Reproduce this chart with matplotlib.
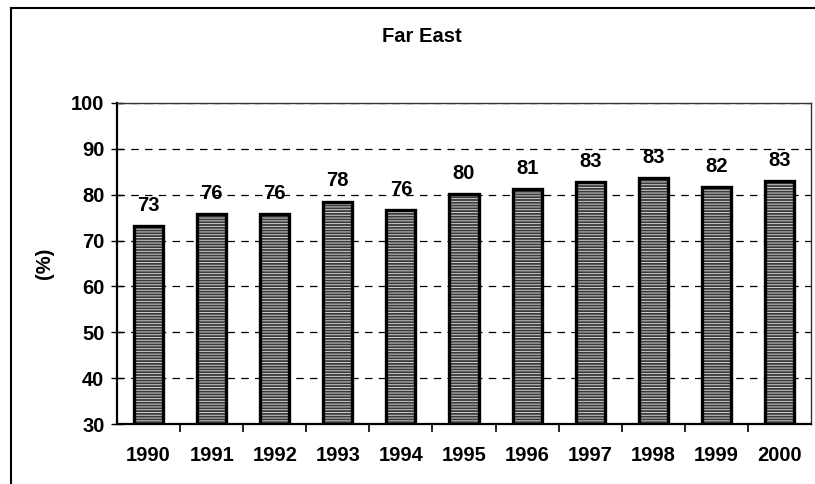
import matplotlib

matplotlib.use("Agg")
import matplotlib.pyplot as plt
from matplotlib.lines import Line2D

# 読み取った値 (棒の高さ) と表示ラベル
years = ["1990", "1991", "1992", "1993", "1994", "1995",
         "1996", "1997", "1998", "1999", "2000"]
share = [73.2, 75.8, 75.8, 78.5, 76.6, 80.2, 81.2, 82.8, 83.6, 81.7, 83.0]
labels = ["73", "76", "76", "78", "76", "80", "81", "83", "83", "82", "83"]
yticks = [30, 40, 50, 60, 70, 80, 90, 100]

plt.rcParams["font.family"] = ["Liberation Sans", "DejaVu Sans"]
plt.rcParams["font.weight"] = "bold"
plt.rcParams["hatch.linewidth"] = 0.7

FS = 14.5
W, H = 815, 484
fig = plt.figure(figsize=(W / 100, H / 100), dpi=100)
ax = fig.add_axes([117 / W, 1 - 424 / H, (811 - 117) / W, (424 - 103) / H])

x = list(range(len(years)))
# 塗り + 白い横線のハッチ、その上に黒枠
ax.bar(x, share, width=0.46, bottom=0, color="#3a3a3a", hatch="------",
       edgecolor="#cfcfcf", linewidth=0, zorder=2)
ax.bar(x, share, width=0.46, bottom=0, fill=False, edgecolor="black",
       linewidth=2.4, zorder=3)

for xi, v, lab in zip(x, share, labels):
    ax.annotate(lab, (xi, v), xytext=(0, 8), textcoords="offset points",
                ha="center", va="bottom", fontsize=FS, fontweight="bold")

ax.set_xlim(-0.5, len(years) - 0.5)
ax.set_ylim(30, 100)
ax.set_yticks(yticks)
ax.set_yticklabels([str(t) for t in yticks], fontsize=FS, fontweight="bold")
ax.set_xticks(x)
ax.set_xticklabels(years, fontsize=FS, fontweight="bold")
ax.tick_params(axis="x", length=0, pad=16)
ax.set_xticks([i + 0.5 for i in x[:-1]], minor=True)
ax.tick_params(axis="x", which="minor", length=6, direction="out", width=1.2)
ax.tick_params(axis="y", length=8, direction="inout", width=1.0, pad=5)

ax.yaxis.grid(True, linestyle=(0, (6, 5)), color="black", linewidth=0.9)
ax.set_axisbelow(True)
for s in ["left", "bottom"]:
    ax.spines[s].set_linewidth(1.6)
for s in ["top", "right"]:
    ax.spines[s].set_linewidth(1.0)
    ax.spines[s].set_color("#333333")

ax.set_ylabel("(%)", fontsize=FS, fontweight="bold", labelpad=12)

fig.text(422 / W, 1 - 36 / H, "Far East", ha="center", va="center",
         fontsize=FS, fontweight="bold")

# 外枠 (左と上だけが見えている)
fig.add_artist(Line2D([11 / W, 11 / W], [0, 1 - 8 / H], color="black",
                      linewidth=1.5, transform=fig.transFigure))
fig.add_artist(Line2D([11 / W, 1], [1 - 8 / H, 1 - 8 / H], color="black",
                      linewidth=1.5, transform=fig.transFigure))

fig.savefig("out.png", dpi=100)
